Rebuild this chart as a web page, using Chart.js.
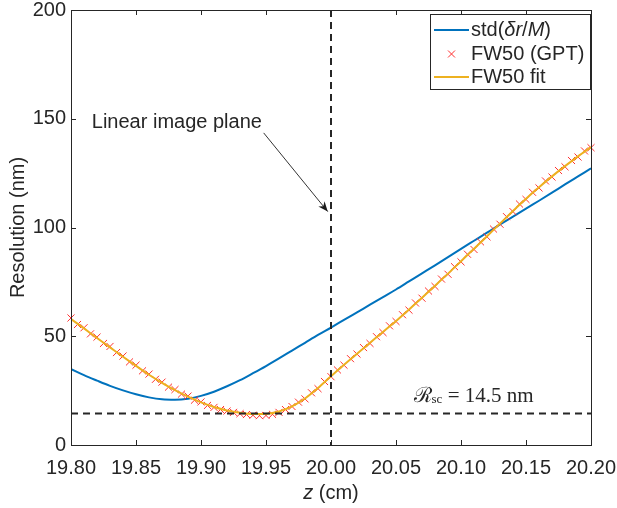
<!DOCTYPE html>
<html>
<head>
<meta charset="utf-8">
<script src="https://cdn.jsdelivr.net/npm/chart.js@4/dist/chart.umd.min.js"></script>
<style>
  html, body { margin: 0; padding: 0; background: #ffffff; }
  canvas { display: block; }
</style>
</head>
<body>
<canvas id="chart" width="617" height="508"></canvas>
<script>
// Axial position z (cm) for the smooth curves
const zGrid = [19.80, 19.81, 19.82, 19.83, 19.84, 19.85, 19.86, 19.87, 19.88, 19.89,
               19.90, 19.91, 19.92, 19.93, 19.94, 19.95, 19.96, 19.97, 19.98, 19.99,
               20.00, 20.01, 20.02, 20.03, 20.04, 20.05, 20.06, 20.07, 20.08, 20.09,
               20.10, 20.11, 20.12, 20.13, 20.14, 20.15, 20.16, 20.17, 20.18, 20.19, 20.20];

// std(delta r / M) in nm
const stdRes = [34.9, 32.1, 29.6, 27.2, 25.1, 23.3, 21.9, 21.0, 20.8, 21.3,
                22.6, 24.5, 27.0, 29.8, 33.0, 36.3, 39.8, 43.4, 47.0, 50.6,
                54.0, 57.5, 61.0, 64.5, 68.0, 71.5, 75.2, 78.9, 82.6, 86.4,
                90.2, 93.9, 97.6, 101.4, 105.0, 108.7, 112.3, 116.0, 119.8, 123.5, 127.2];

// FW50 fitted curve in nm
const fwFit = [57.9, 53.6, 49.2, 44.9, 40.6, 36.4, 32.3, 28.6, 25.2, 22.2,
               19.6, 17.5, 15.9, 14.8, 14.2, 14.3, 15.4, 17.8, 21.4, 26.2,
               31.6, 36.9, 42.0, 47.0, 52.0, 57.0, 62.3, 67.7, 73.2, 78.8,
               84.5, 90.2, 96.0, 101.8, 107.6, 113.2, 118.5, 123.5, 128.2, 132.7, 137.0];

// GPT tracking samples: positions (cm) and FW50 (nm)
const zGpt = [19.800, 19.805, 19.810, 19.815, 19.820, 19.825, 19.830, 19.835, 19.840, 19.845,
              19.850, 19.855, 19.860, 19.865, 19.870, 19.875, 19.880, 19.885, 19.890, 19.895,
              19.900, 19.905, 19.910, 19.915, 19.920, 19.925, 19.930, 19.935, 19.940, 19.945,
              19.950, 19.955, 19.960, 19.965, 19.970, 19.975, 19.980, 19.985, 19.990, 19.995,
              20.000, 20.005, 20.010, 20.015, 20.020, 20.025, 20.030, 20.035, 20.040, 20.045,
              20.050, 20.055, 20.060, 20.065, 20.070, 20.075, 20.080, 20.085, 20.090, 20.095,
              20.100, 20.105, 20.110, 20.115, 20.120, 20.125, 20.130, 20.135, 20.140, 20.145,
              20.150, 20.155, 20.160, 20.165, 20.170, 20.175, 20.180, 20.185, 20.190, 20.195, 20.200];
const fwGpt = [58.4, 55.4, 53.9, 51.1, 49.6, 46.7, 45.3, 42.5, 40.9, 38.2,
               36.7, 34.1, 32.6, 30.2, 28.9, 26.6, 25.5, 23.4, 22.5, 20.6,
               19.8, 18.2, 17.3, 16.3, 15.6, 15.0, 14.4, 14.0, 13.7, 13.5,
               13.6, 14.1, 15.0, 16.3, 17.7, 19.7, 21.2, 24.0, 25.9, 29.2,
               31.4, 34.5, 36.7, 39.7, 41.8, 44.8, 46.7, 49.8, 51.7, 54.8,
               56.8, 59.9, 62.0, 65.3, 67.5, 70.8, 72.9, 76.3, 78.5, 82.0,
               84.2, 87.7, 89.9, 93.4, 95.7, 99.3, 101.5, 105.0, 107.3, 110.8,
               112.9, 116.2, 118.2, 121.4, 123.2, 126.2, 127.9, 130.8, 132.4, 135.2, 136.7];

// Axis ticks
const xTicks = [19.80, 19.85, 19.90, 19.95, 20.00, 20.05, 20.10, 20.15, 20.20];
const yTicks = [0, 50, 100, 150, 200];

// Reference levels
const rscLevel = 14.5;       // space-charge limited resolution (nm)
const imagePlaneZ = 20.00;   // linear image plane position (cm)

const SANS = "'Liberation Sans', Arial, sans-serif";
const SERIF = "'Liberation Serif', 'DejaVu Serif', serif";
const INK = '#262626';
const BLUE = '#0072BD';
const ORANGE = '#EDB120';
const RED = '#FF3030';
const FS = 20;

const pts = (xs, ys) => xs.map((x, i) => ({ x: x, y: ys[i] }));

function drawRuns(ctx, x, y, runs) {
  let cx = x;
  for (const r of runs) {
    ctx.font = r.font;
    ctx.fillText(r.text, cx, y + (r.dy || 0));
    cx += ctx.measureText(r.text).width;
  }
  return cx;
}
function runsWidth(ctx, runs) {
  let w = 0;
  for (const r of runs) { ctx.font = r.font; w += ctx.measureText(r.text).width; }
  return w;
}

const decorations = {
  id: 'decorations',
  afterDatasetsDraw(chart) {
    const { ctx, chartArea: a, scales: { x, y } } = chart;
    ctx.save();
    ctx.strokeStyle = INK;
    ctx.lineWidth = 2;
    ctx.setLineDash([7, 5]);
    const xp = x.getPixelForValue(imagePlaneZ);
    ctx.beginPath(); ctx.moveTo(xp, a.top); ctx.lineTo(xp, a.bottom); ctx.stroke();
    const yp = y.getPixelForValue(rscLevel);
    ctx.beginPath(); ctx.moveTo(a.left, yp); ctx.lineTo(a.right, yp); ctx.stroke();
    ctx.restore();
  },
  afterDraw(chart) {
    const { ctx, chartArea: a, scales: { x, y } } = chart;
    ctx.save();

    // axes box with inward ticks
    ctx.strokeStyle = INK;
    ctx.lineWidth = 1;
    ctx.setLineDash([]);
    ctx.strokeRect(Math.round(a.left) + 0.5, Math.round(a.top) + 0.5,
                   Math.round(a.right - a.left), Math.round(a.bottom - a.top));
    const tl = 5;
    ctx.beginPath();
    for (const v of xTicks) {
      const px = Math.round(x.getPixelForValue(v)) + 0.5;
      ctx.moveTo(px, a.bottom); ctx.lineTo(px, a.bottom - tl);
      ctx.moveTo(px, a.top); ctx.lineTo(px, a.top + tl);
    }
    for (const v of yTicks) {
      const py = Math.round(y.getPixelForValue(v)) + 0.5;
      ctx.moveTo(a.left, py); ctx.lineTo(a.left + tl, py);
      ctx.moveTo(a.right, py); ctx.lineTo(a.right - tl, py);
    }
    ctx.stroke();

    // axis titles
    ctx.fillStyle = INK;
    ctx.textBaseline = 'middle';
    ctx.save();
    ctx.translate(18, (a.top + a.bottom) / 2);
    ctx.rotate(-Math.PI / 2);
    ctx.textAlign = 'center';
    ctx.font = FS + 'px ' + SANS;
    ctx.fillText('Resolution (nm)', 0, 0);
    ctx.restore();

    ctx.textAlign = 'left';
    const xt = [
      { text: 'z', font: 'italic ' + FS + 'px ' + SANS },
      { text: ' (cm)', font: FS + 'px ' + SANS }
    ];
    drawRuns(ctx, (a.left + a.right) / 2 - runsWidth(ctx, xt) / 2, 493, xt);

    // annotation: image plane label and arrow
    ctx.font = FS + 'px ' + SANS;
    ctx.fillText('Linear image plane', x.getPixelForValue(19.816), y.getPixelForValue(148.5));
    const x0 = x.getPixelForValue(19.9482), y0 = y.getPixelForValue(143.5);
    const x1 = x.getPixelForValue(19.9975), y1 = y.getPixelForValue(107.3);
    ctx.strokeStyle = '#333333';
    ctx.lineWidth = 1;
    ctx.beginPath(); ctx.moveTo(x0, y0); ctx.lineTo(x1, y1); ctx.stroke();
    const ang = Math.atan2(y1 - y0, x1 - x0);
    const hl = 10, hw = 4;
    const bx = x1 - hl * Math.cos(ang), by = y1 - hl * Math.sin(ang);
    const nx = -Math.sin(ang), ny = Math.cos(ang);
    const mx = x1 - 7 * Math.cos(ang), my = y1 - 7 * Math.sin(ang);
    ctx.fillStyle = '#1a1a1a';
    ctx.beginPath();
    ctx.moveTo(x1, y1);
    ctx.lineTo(bx + nx * hw, by + ny * hw);
    ctx.lineTo(mx, my);
    ctx.lineTo(bx - nx * hw, by - ny * hw);
    ctx.closePath();
    ctx.fill();

    // space-charge level label
    ctx.fillStyle = INK;
    const rl = [
      { text: '\u211B', font: '21px ' + SERIF },
      { text: 'sc', font: '13px ' + SERIF, dy: 4 },
      { text: ' = 14.5 nm', font: '21px ' + SERIF }
    ];
    drawRuns(ctx, x.getPixelForValue(20.0635), y.getPixelForValue(22.5), rl);

    // legend
    const lx = 430.5, ly = 14.5, lw = 160, lh = 75;
    ctx.fillStyle = '#ffffff';
    ctx.fillRect(lx, ly, lw, lh);
    ctx.strokeStyle = INK;
    ctx.lineWidth = 1;
    ctx.strokeRect(lx, ly, lw, lh);
    const rows = [30, 54, 77];
    const sx0 = 434, sx1 = 469, tx = 471;
    ctx.lineWidth = 2;
    ctx.strokeStyle = BLUE;
    ctx.beginPath(); ctx.moveTo(sx0, rows[0]); ctx.lineTo(sx1, rows[0]); ctx.stroke();
    ctx.strokeStyle = ORANGE;
    ctx.beginPath(); ctx.moveTo(sx0, rows[2]); ctx.lineTo(sx1, rows[2]); ctx.stroke();
    ctx.strokeStyle = RED;
    ctx.lineWidth = 1;
    const mcx = (sx0 + sx1) / 2, mcy = rows[1], r = 3.5;
    ctx.beginPath();
    ctx.moveTo(mcx - r, mcy - r); ctx.lineTo(mcx + r, mcy + r);
    ctx.moveTo(mcx - r, mcy + r); ctx.lineTo(mcx + r, mcy - r);
    ctx.stroke();

    ctx.fillStyle = INK;
    drawRuns(ctx, tx, rows[0], [
      { text: 'std(', font: FS + 'px ' + SANS },
      { text: '\u03B4r', font: 'italic ' + FS + 'px ' + SANS },
      { text: '/', font: FS + 'px ' + SANS },
      { text: 'M', font: 'italic ' + FS + 'px ' + SANS },
      { text: ')', font: FS + 'px ' + SANS }
    ]);
    ctx.font = FS + 'px ' + SANS;
    ctx.fillText('FW50 (GPT)', tx, rows[1]);
    ctx.fillText('FW50 fit', tx, rows[2]);

    ctx.restore();
  }
};

new Chart(document.getElementById('chart'), {
  type: 'line',
  data: {
    datasets: [
      {
        label: 'FW50 fit',
        data: pts(zGrid, fwFit),
        borderColor: ORANGE,
        borderWidth: 2,
        pointRadius: 0,
        cubicInterpolationMode: 'monotone',
        fill: false
      },
      {
        label: 'FW50 (GPT)',
        data: pts(zGpt, fwGpt),
        showLine: false,
        pointStyle: 'crossRot',
        pointRadius: 5,
        pointBorderWidth: 1,
        pointBorderColor: RED,
        pointBackgroundColor: RED,
        clip: false
      },
      {
        label: 'std(\u03B4r/M)',
        data: pts(zGrid, stdRes),
        borderColor: BLUE,
        borderWidth: 2,
        pointRadius: 0,
        cubicInterpolationMode: 'monotone',
        fill: false
      }
    ]
  },
  options: {
    responsive: false,
    animation: false,
    devicePixelRatio: 1,
    layout: { padding: { left: 0, right: 26, top: 10, bottom: 0 } },
    plugins: { legend: { display: false }, tooltip: { enabled: false } },
    scales: {
      x: {
        type: 'linear',
        min: 19.8,
        max: 20.2,
        afterBuildTicks: (s) => { s.ticks = xTicks.map(v => ({ value: v })); },
        afterFit: (s) => { s.height = 63; s.paddingLeft = 0; s.paddingRight = 0; },
        grid: { display: false, drawTicks: false, tickLength: 0 },
        border: { display: false },
        ticks: {
          padding: 11,
          color: INK,
          font: { family: SANS, size: FS },
          maxRotation: 0,
          autoSkip: false,
          callback: (v) => Number(v).toFixed(2)
        }
      },
      y: {
        type: 'linear',
        min: 0,
        max: 200,
        afterBuildTicks: (s) => { s.ticks = yTicks.map(v => ({ value: v })); },
        afterFit: (s) => { s.width = 71; s.paddingTop = 0; s.paddingBottom = 0; },
        grid: { display: false, drawTicks: false, tickLength: 0 },
        border: { display: false },
        ticks: {
          padding: 5,
          color: INK,
          font: { family: SANS, size: FS },
          callback: (v) => String(v)
        }
      }
    }
  },
  plugins: [decorations]
});
</script>
</body>
</html>
